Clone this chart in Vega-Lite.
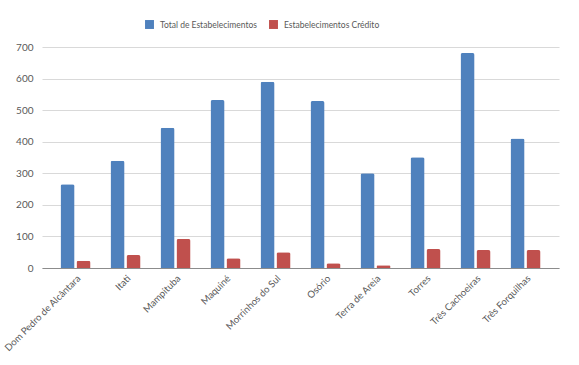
{
  "$schema": "https://vega.github.io/schema/vega-lite/v6.json",
  "width": 517,
  "height": 221,
  "autosize": {"type": "none"},
  "padding": {"left": 42, "top": 47, "right": 20, "bottom": 97},
  "background": "white",
  "config": {
    "view": {"stroke": null},
    "font": "Lato",
    "axis": {"labelFont": "Lato", "labelColor": "#595959", "labelFontSize": 10},
    "legend": {"labelFont": "Lato", "labelColor": "#595959", "labelFontSize": 8.5}
  },
  "data": {
    "values": [
      {"municipio": "Dom Pedro de Alcântara", "serie": "Total de Estabelecimentos", "valor": 265},
      {"municipio": "Dom Pedro de Alcântara", "serie": "Estabelecimentos Crédito", "valor": 23},
      {"municipio": "Itati", "serie": "Total de Estabelecimentos", "valor": 340},
      {"municipio": "Itati", "serie": "Estabelecimentos Crédito", "valor": 41},
      {"municipio": "Mampituba", "serie": "Total de Estabelecimentos", "valor": 444},
      {"municipio": "Mampituba", "serie": "Estabelecimentos Crédito", "valor": 92},
      {"municipio": "Maquiné", "serie": "Total de Estabelecimentos", "valor": 532},
      {"municipio": "Maquiné", "serie": "Estabelecimentos Crédito", "valor": 31},
      {"municipio": "Morrinhos do Sul", "serie": "Total de Estabelecimentos", "valor": 590},
      {"municipio": "Morrinhos do Sul", "serie": "Estabelecimentos Crédito", "valor": 50},
      {"municipio": "Osório", "serie": "Total de Estabelecimentos", "valor": 529},
      {"municipio": "Osório", "serie": "Estabelecimentos Crédito", "valor": 15},
      {"municipio": "Terra de Areia", "serie": "Total de Estabelecimentos", "valor": 300},
      {"municipio": "Terra de Areia", "serie": "Estabelecimentos Crédito", "valor": 9},
      {"municipio": "Torres", "serie": "Total de Estabelecimentos", "valor": 351},
      {"municipio": "Torres", "serie": "Estabelecimentos Crédito", "valor": 60},
      {"municipio": "Três Cachoeiras", "serie": "Total de Estabelecimentos", "valor": 681},
      {"municipio": "Três Cachoeiras", "serie": "Estabelecimentos Crédito", "valor": 57},
      {"municipio": "Três Forquilhas", "serie": "Total de Estabelecimentos", "valor": 410},
      {"municipio": "Três Forquilhas", "serie": "Estabelecimentos Crédito", "valor": 57}
    ]
  },
  "mark": {"type": "bar", "cornerRadiusTopLeft": 2, "cornerRadiusTopRight": 2},
  "encoding": {
    "x": {
      "field": "municipio",
      "type": "nominal",
      "sort": null,
      "scale": {"paddingInner": 0.4, "paddingOuter": 0.37},
      "axis": {
        "title": null,
        "labelAngle": -45,
        "labelAlign": "right",
        "labelBaseline": "top",
        "labelFontSize": 9.6,
        "ticks": false,
        "domainColor": "#8c8c8c",
        "domainWidth": 1,
        "labelPadding": 5
      }
    },
    "xOffset": {
      "field": "serie",
      "type": "nominal",
      "sort": ["Total de Estabelecimentos", "Estabelecimentos Crédito"],
      "scale": {"paddingInner": 0.12}
    },
    "y": {
      "field": "valor",
      "type": "quantitative",
      "scale": {"domain": [0, 700]},
      "axis": {
        "title": null,
        "values": [0, 100, 200, 300, 400, 500, 600, 700],
        "domain": false,
        "ticks": false,
        "gridColor": "#d9d9d9",
        "labelPadding": 9
      }
    },
    "color": {
      "field": "serie",
      "type": "nominal",
      "sort": ["Total de Estabelecimentos", "Estabelecimentos Crédito"],
      "scale": {"range": ["#C0504D", "#4F81BD"], "domain": ["Estabelecimentos Crédito", "Total de Estabelecimentos"]},
      "legend": {
        "title": null,
        "orient": "none",
        "direction": "horizontal",
        "legendX": 103,
        "legendY": -27,
        "symbolType": "square",
        "symbolSize": 80,
        "symbolStrokeWidth": 0,
        "columnPadding": 12,
        "labelOffset": 6,
        "values": ["Total de Estabelecimentos", "Estabelecimentos Crédito"]
      }
    }
  }
}
